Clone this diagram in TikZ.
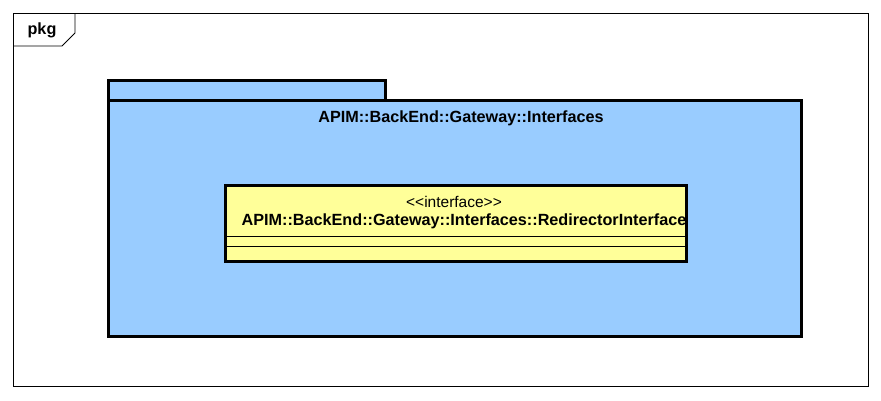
\documentclass[tikz,border=0pt]{standalone}
\usepackage{fontspec}
\setmainfont{Liberation Sans}
\usetikzlibrary{positioning, calc}
\definecolor{pkgblue}{RGB}{153,204,255}
\definecolor{clsyellow}{RGB}{255,255,153}
\tikzset{
  frame/.style={draw=black, line width=0.8pt},
  pkgpart/.style={draw=black, fill=pkgblue, line width=3pt},
  clsbox/.style={draw=black, fill=clsyellow, line width=3pt},
  sepline/.style={draw=black, line width=0.8pt},
  lbl/.style={inner sep=0pt, font=\bfseries\fontsize{16.2}{18}\selectfont},
  stereo/.style={inner sep=0pt, font=\fontsize{15.5}{17}\selectfont},
}

\begin{document}
\begin{tikzpicture}[x=1pt, y=-1pt]
  \useasboundingbox (0,0) rectangle (881,400);
  % outer frame with its name tab
  \draw[frame] (13,13) rectangle (868,386);
  \draw[frame] (75,13) -- (75,33) -- (62,46) -- (13,46);
  \node[lbl, anchor=center] (pkgname) at (42,30) {pkg};

  % package
  \draw[pkgpart] (108,80) rectangle (385,100);
  \draw[pkgpart] (108,100) rectangle (801,336);
  \node[lbl] (pkgtitle) at (461,118) {APIM::BackEnd::Gateway::Interfaces};

  % interface box
  \draw[clsbox] (225,185) rectangle (686,261);
  \node[stereo] (st) at (454,202) {<{}<interface>{}>};
  \node[lbl] (cls) at (464,221) {APIM::BackEnd::Gateway::Interfaces::RedirectorInterface};
  \draw[sepline] (225,236) -- (686,236);
  \draw[sepline] (225,246) -- (686,246);
\end{tikzpicture}
\end{document}
